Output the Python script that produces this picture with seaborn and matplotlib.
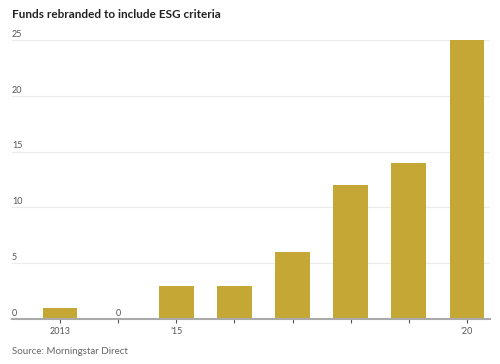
import numpy as np
import pandas as pd
import matplotlib
matplotlib.use('Agg')
import matplotlib.pyplot as plt
import seaborn as sns

# data
years = ['2013', '2014', '2015', '2016', '2017', '2018', '2019', '2020']
funds = [1, 0, 3, 3, 6, 12, 14, 25]
tick_labels = ['2013', '', "\u201915", '', '', '', '', "\u201920"]
y_ticks = [0, 5, 10, 15, 20, 25]

df = pd.DataFrame({'year': years, 'funds': funds})

sns.set_theme(style='white')
plt.rcParams['font.family'] = ['Lato', 'DejaVu Sans']

fig = plt.figure(figsize=(5, 3.64), dpi=100)
ax = fig.add_axes([0.024, 0.1236, 0.956, 0.7665])

sns.barplot(data=df, x='year', y='funds', color='#C4A735', width=0.6,
            saturation=1, ax=ax, edgecolor='none')

ax.set_ylim(0, 25)
ax.set_xlim(-0.826, 7.396)

# gridlines and left-aligned y labels sitting on top of them
for v in y_ticks:
    if v > 0:
        ax.axhline(v, color='#ebebeb', lw=0.8, zorder=0)
    ax.text(0, v + 0.1, str(v), transform=ax.get_yaxis_transform(),
            ha='left', va='bottom', fontsize=6.5, color='#555555')

# zero-value labels
for i, v in enumerate(funds):
    if v == 0:
        ax.text(i, 0.1, '0', ha='center', va='bottom', fontsize=6.5, color='#555555')

ax.set_yticks([])
ax.set_xticks(range(len(years)))
ax.set_xticklabels(tick_labels, fontsize=6.5, color='#555555')
ax.tick_params(axis='x', direction='out', length=3, width=0.8, color='#555555', pad=3, bottom=True)
ax.set_xlabel('')
ax.set_ylabel('')

for s in ['top', 'right', 'left']:
    ax.spines[s].set_visible(False)
ax.spines['bottom'].set_color('#aaaaaa')
ax.spines['bottom'].set_linewidth(1.5)

fig.text(0.024, 0.96, 'Funds rebranded to include ESG criteria', fontsize=8.5,
         fontweight='bold', color='#222222', ha='left', va='center')
fig.text(0.024, 0.033, 'Source: Morningstar Direct', fontsize=7,
         color='#666666', ha='left', va='center')

fig.savefig('out.png', dpi=100)
